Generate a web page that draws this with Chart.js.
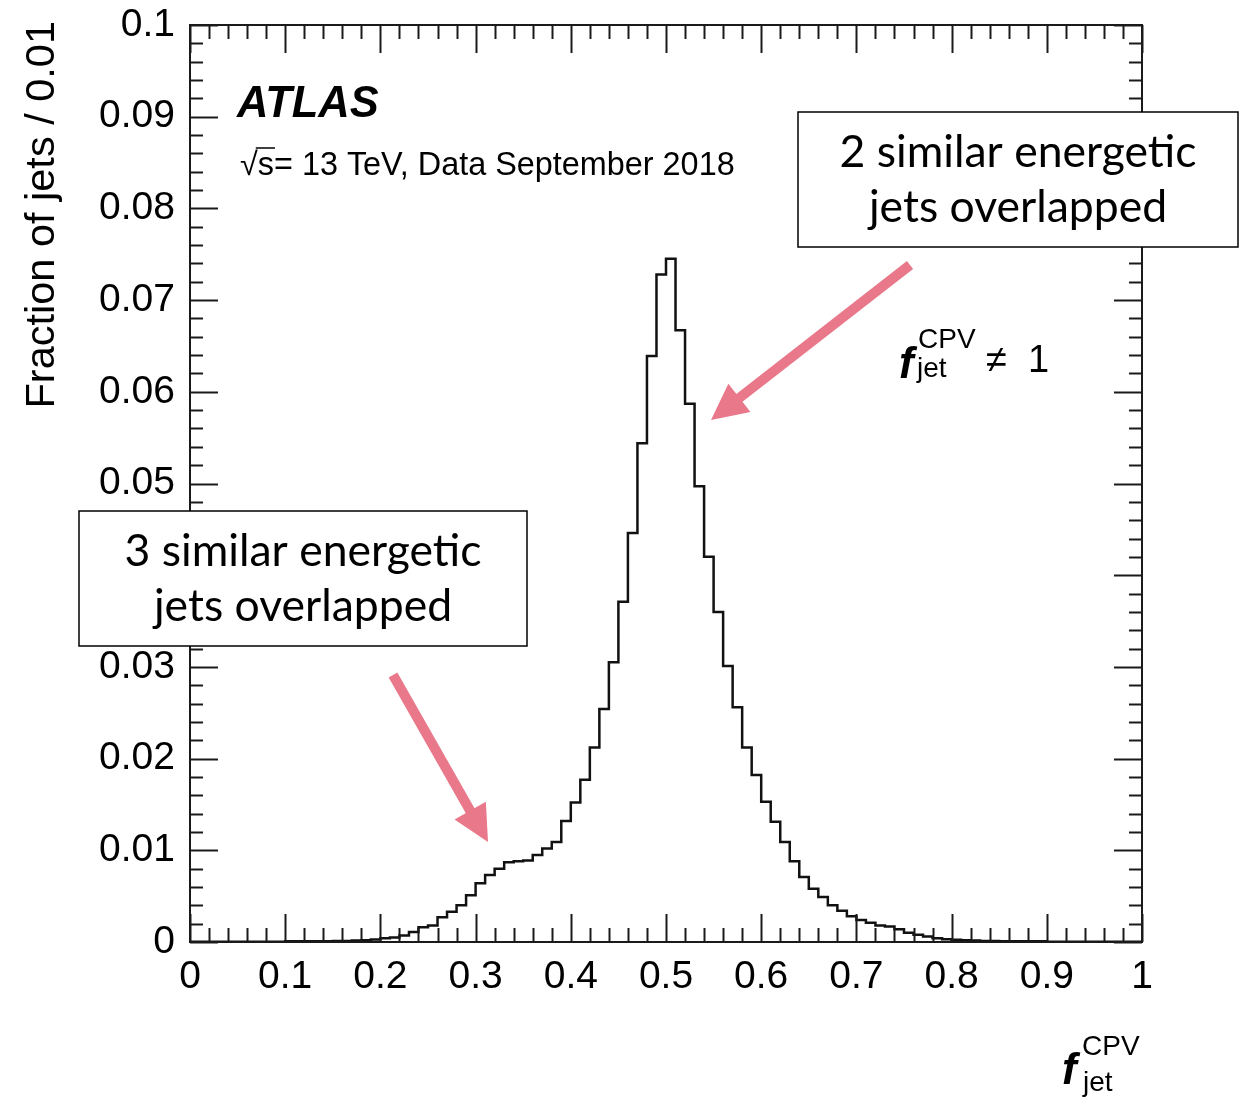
<!DOCTYPE html>
<html>
<head>
<meta charset="utf-8">
<script src="https://cdn.jsdelivr.net/npm/chart.js@4.4.1/dist/chart.umd.min.js"></script>
<style>html,body{margin:0;padding:0;background:#fff}canvas{display:block}</style>
</head>
<body>
<canvas id="c" width="1239" height="1099"></canvas>
<script>
// ATLAS f_jet^CPV distribution, 100 bins of width 0.01 (Data Sept 2018)
const BIN_LO = Array.from({ length: 100 }, (_, i) => i / 100);
const FRAC = [
  0.00003, 0.00003, 0.00003, 0.00003, 0.00003, 0.00003, 0.00003, 0.00003, 0.00003, 0.00003,
  0.00008, 0.00008, 0.00008, 0.00008, 0.00008, 0.0001, 0.00012, 0.00015, 0.0002, 0.00028,
  0.0004, 0.0005, 0.0007, 0.0011, 0.0016, 0.0018, 0.0027, 0.0033, 0.0040, 0.0051,
  0.0064, 0.0073, 0.0080, 0.0087, 0.0088, 0.0089, 0.0095, 0.0102, 0.0109, 0.0132,
  0.0152, 0.0177, 0.0212, 0.0254, 0.0305, 0.0371, 0.0446, 0.0544, 0.0639, 0.0728,
  0.0745, 0.0667, 0.0587, 0.0497, 0.0420, 0.0360, 0.0301, 0.0256, 0.0212, 0.0182,
  0.0153, 0.0131, 0.0109, 0.0088, 0.0071, 0.0058, 0.0049, 0.0040, 0.0034, 0.0028,
  0.0024, 0.0021, 0.0018, 0.0017, 0.0014, 0.0010, 0.0008, 0.0006, 0.0004, 0.0003,
  0.00025, 0.0002, 0.00015, 0.00012, 0.0001, 0.00008, 0.00008, 0.00008, 0.00008, 0.00008,
  0.00004, 0.00004, 0.00004, 0.00004, 0.00004, 0.00004, 0.00004, 0.00004, 0.00004, 0.00004
];
const Y_TITLE = 'Fraction of jets / 0.01';
const ENERGY = 'Data September 2018';
const NOTE2 = ['2 similar energetic', 'jets overlapped'];
const NOTE3 = ['3 similar energetic', 'jets overlapped'];

const FONT = '"Liberation Sans", Arial, sans-serif';
const PINK = '#e8788a';

// 每個 bin 左邊界一點，最後補右邊界
const points = BIN_LO.map((x, i) => ({ x, y: FRAC[i] }));
points.push({ x: 1, y: FRAC[FRAC.length - 1] });

function seg(ctx, x1, y1, x2, y2) {
  ctx.beginPath(); ctx.moveTo(x1, y1); ctx.lineTo(x2, y2); ctx.stroke();
}

// ROOT 風格外框 + 向內的刻度
const rootFrame = {
  id: 'rootFrame',
  afterDatasetsDraw(chart) {
    const { ctx, chartArea: a, scales: { x, y } } = chart;
    ctx.save();
    ctx.strokeStyle = '#1a1a1a';
    ctx.lineWidth = 2;
    ctx.strokeRect(a.left, a.top, a.right - a.left, a.bottom - a.top);
    for (let k = 0; k <= 50; k++) {
      const px = Math.round(x.getPixelForValue(k * 0.02)) + 0.5;
      const len = k % 5 === 0 ? 28 : 14;
      seg(ctx, px, a.bottom, px, a.bottom - len);
      seg(ctx, px, a.top, px, a.top + len);
    }
    for (let k = 0; k <= 50; k++) {
      const py = Math.round(y.getPixelForValue(k * 0.002)) + 0.5;
      const len = k % 5 === 0 ? 28 : 13;
      seg(ctx, a.left, py, a.left + len, py);
      seg(ctx, a.right, py, a.right - len, py);
    }
    ctx.restore();
  }
};

function fjet(ctx, x, base, supBase, subBase, size, dxSup, dxSub) {
  ctx.font = `italic bold ${size}px ${FONT}`;
  ctx.fillText('f', x, base);
  ctx.font = `28px ${FONT}`;
  ctx.fillText('CPV', x + dxSup, supBase);
  ctx.fillText('jet', x + dxSub, subBase);
}

function arrow(ctx, x1, y1, x2, y2) {
  const ang = Math.atan2(y2 - y1, x2 - x1);
  const head = 36, half = 18, w = 10;
  const bx = x2 - head * Math.cos(ang), by = y2 - head * Math.sin(ang);
  ctx.save();
  ctx.strokeStyle = PINK; ctx.fillStyle = PINK;
  ctx.lineWidth = w; ctx.lineCap = 'butt';
  seg(ctx, x1, y1, bx + 2 * Math.cos(ang), by + 2 * Math.sin(ang));
  ctx.beginPath();
  ctx.moveTo(x2, y2);
  ctx.lineTo(bx + half * Math.sin(ang), by - half * Math.cos(ang));
  ctx.lineTo(bx - half * Math.sin(ang), by + half * Math.cos(ang));
  ctx.closePath(); ctx.fill();
  ctx.restore();
}

function noteBox(ctx, x1, y1, x2, y2, lines) {
  ctx.save();
  ctx.fillStyle = '#fff';
  ctx.fillRect(x1, y1, x2 - x1, y2 - y1);
  ctx.strokeStyle = '#000'; ctx.lineWidth = 1.5;
  ctx.strokeRect(x1, y1, x2 - x1, y2 - y1);
  ctx.font = `100px Lato, "Open Sans", sans-serif`;
  const size = 100 * 357 / ctx.measureText(lines[0]).width;
  ctx.font = `${size}px Lato, "Open Sans", sans-serif`;
  ctx.fillStyle = '#000'; ctx.textAlign = 'center'; ctx.textBaseline = 'alphabetic';
  const cx = (x1 + x2) / 2;
  ctx.fillText(lines[0], cx, y1 + 55);
  ctx.fillText(lines[1], cx, y1 + 110);
  ctx.restore();
}

const overlay = {
  id: 'overlay',
  afterDraw(chart) {
    const ctx = chart.ctx;
    ctx.save();
    ctx.fillStyle = '#000';
    ctx.textBaseline = 'alphabetic';

    // y 軸標題，貼齊上端
    ctx.save();
    ctx.translate(54, 21);
    ctx.rotate(-Math.PI / 2);
    ctx.textAlign = 'right';
    ctx.font = `41.5px ${FONT}`;
    ctx.fillText(Y_TITLE, 0, 0);
    ctx.restore();

    ctx.textAlign = 'left';
    ctx.font = `italic bold 43.5px ${FONT}`;
    ctx.fillText('ATLAS', 237, 117);

    ctx.font = `32.4px ${FONT}`;
    ctx.fillText('\u221A', 240, 175);
    const rw = ctx.measureText('\u221A').width;
    const sw = ctx.measureText('s').width;
    ctx.lineWidth = 1.5; ctx.strokeStyle = '#000';
    seg(ctx, 240 + rw - 2, 148, 240 + rw + sw + 1, 148);
    ctx.fillText('s= 13 TeV, ' + ENERGY, 240 + rw, 175);

    fjet(ctx, 899, 378, 348, 377, 44, 19, 18);
    ctx.font = `38px ${FONT}`;
    ctx.fillText('\u2260', 986, 372);
    ctx.fillText('1', 1028, 372);

    fjet(ctx, 1062, 1084, 1055, 1091, 44, 20, 21);

    arrow(ctx, 910, 265, 711, 420);
    arrow(ctx, 393, 675, 488, 842);
    noteBox(ctx, 798, 112, 1238, 247, NOTE2);
    noteBox(ctx, 79, 511, 527, 646, NOTE3);
    ctx.restore();
  }
};

const tickFont = { family: FONT, size: 39 };
new Chart(document.getElementById('c'), {
  type: 'line',
  data: { datasets: [{ data: points, stepped: true, borderColor: '#111', borderWidth: 2.5,
                       pointRadius: 0, fill: false }] },
  options: {
    responsive: false, animation: false, events: [],
    layout: { padding: { top: 25, right: 97, left: 0, bottom: 0 } },
    plugins: { legend: { display: false }, tooltip: { enabled: false } },
    scales: {
      x: { type: 'linear', min: 0, max: 1,
           grid: { display: false, drawTicks: false }, border: { display: false },
           ticks: { stepSize: 0.1, autoSkip: false, maxRotation: 0, padding: 12,
                    color: '#000', font: tickFont, callback: v => String(+v.toFixed(2)) },
           afterFit: s => { s.height = 157; s.paddingLeft = 0; s.paddingRight = 0; } },
      y: { min: 0, max: 0.1,
           grid: { display: false, drawTicks: false }, border: { display: false },
           ticks: { stepSize: 0.01, autoSkip: false, padding: 15,
                    color: '#000', font: tickFont, callback: v => String(+v.toFixed(3)) },
           afterFit: s => { s.width = 190; s.paddingTop = 0; s.paddingBottom = 0; } }
    }
  },
  plugins: [rootFrame, overlay]
});
</script>
</body>
</html>
